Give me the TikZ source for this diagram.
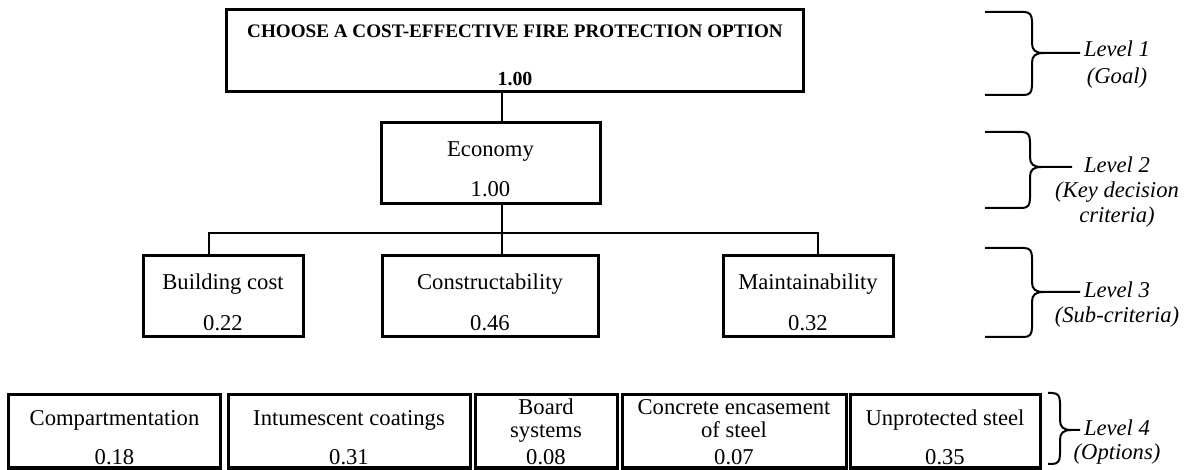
\documentclass[tikz,border=0pt]{standalone}
\usepackage{fontspec}
\setmainfont{Liberation Serif}
\tikzset{
  box/.style={draw, line width=3bp, inner sep=0pt, outer sep=0pt},
  link/.style={line width=1.7bp},
  lbr/.style={line width=2bp},
  txt/.style={anchor=base, inner sep=0pt, font=\fontsize{22.7}{26}\selectfont},
  ttl/.style={anchor=base, inner sep=0pt, font=\fontsize{19.2}{22}\selectfont\bfseries},
  lvl/.style={anchor=base, inner sep=0pt, font=\fontsize{22.7}{26}\selectfont\itshape},
}
\newcommand\levbrace[6]{%
  \draw[lbr] (#1,#4) -- ({#2-8},#4) .. controls ({#2-2},#4) and (#2,{#4+3}) .. (#2,{#4+10})
    -- (#2,{#5-10}) .. controls (#2,{#5-3}) and ({#2+3},#5) .. ({#2+12},#5) -- (#3,#5);
  \draw[lbr] ({#2+12},#5) .. controls ({#2+3},#5) and (#2,{#5+3}) .. (#2,{#5+10})
    -- (#2,{#6-10}) .. controls (#2,{#6-3}) and ({#2-2},#6) .. ({#2-8},#6) -- (#1,#6);
}
\begin{document}
\begin{tikzpicture}[x=1bp, y=-1bp]
\useasboundingbox (0,0) rectangle (1189,470);
% boxes
\node[box, minimum width=576bp, minimum height=82bp] (top) at (515,51) {};
\node[box, minimum width=219bp, minimum height=81bp] (eco) at (490.5,163.5) {};
\node[box, minimum width=160bp, minimum height=81bp] (bc) at (223,296.5) {};
\node[box, minimum width=216bp, minimum height=81bp] (cons) at (490,296.5) {};
\node[box, minimum width=170bp, minimum height=81bp] (mt) at (808,296.5) {};
\node[box, minimum width=211bp, minimum height=73bp] (comp) at (114.5,431.5) {};
\node[box, minimum width=242bp, minimum height=73bp] (intu) at (349,431.5) {};
\node[box, minimum width=142bp, minimum height=73bp] (board) at (546,431.5) {};
\node[box, minimum width=224bp, minimum height=73bp] (conc) at (734,431.5) {};
\node[box, minimum width=190bp, minimum height=73bp] (unpr) at (945,431.5) {};
% texts
\node[ttl] (topt) at (515,37.5) {CHOOSE A COST-EFFECTIVE FIRE PROTECTION OPTION};
\node[ttl, font=\fontsize{20}{22}\selectfont\bfseries] (topv) at (515,86) {1.00};
\node[txt] (ecot) at (490.5,157) {Economy};
\node[txt] (ecov) at (490.5,197) {1.00};
\node[txt] (bct) at (223,290) {Building cost};
\node[txt] (bcv) at (223,331) {0.22};
\node[txt] (const) at (490,290) {Constructability};
\node[txt] (consv) at (490,331) {0.46};
\node[txt] (mtt) at (808,290) {Maintainability};
\node[txt] (mtv) at (808,331) {0.32};
\node[txt] (compt) at (114.5,425.5) {Compartmentation};
\node[txt] (compv) at (114.5,464.5) {0.18};
\node[txt] (intut) at (349,425.5) {Intumescent coatings};
\node[txt] (intuv) at (349,464.5) {0.31};
\node[txt] (boardt) at (546,415) {Board};
\node[txt] (boardu) at (546,438) {systems};
\node[txt] (boardv) at (546,464.5) {0.08};
\node[txt] (conct) at (734,415) {Concrete encasement};
\node[txt] (concu) at (734,438) {of steel};
\node[txt] (concv) at (734,464.5) {0.07};
\node[txt] (unprt) at (945,425.5) {Unprotected steel};
\node[txt] (unprv) at (945,464.5) {0.35};
% connectors
\coordinate (m) at (502,0);
\coordinate (jl) at (209,233);
\coordinate (jr) at (818,233);
\draw[link] (top.south -| m) -- (eco.north -| m);
\draw[link] (eco.south -| m) -- (cons.north -| m);
\draw[link] (bc.north -| jl) -- (jl) -- (jr) -- (mt.north -| jr);
% level braces
\levbrace{985}{1032}{1080}{12}{53}{95}
\levbrace{985}{1030}{1072}{132}{167}{208}
\levbrace{985}{1032}{1080}{248}{292}{337}
\levbrace{1048}{1060}{1080}{393}{430}{464}
\node[lvl] (l1a) at (1117,57) {Level 1};
\node[lvl] (l1b) at (1117,84) {(Goal)};
\node[lvl] (l2a) at (1117,173) {Level 2};
\node[lvl] (l2b) at (1117,198) {(Key decision};
\node[lvl] (l2c) at (1117,223) {criteria)};
\node[lvl] (l3a) at (1117,298) {Level 3};
\node[lvl] (l3b) at (1117,323) {(Sub-criteria)};
\node[lvl] (l4a) at (1117,436) {Level 4};
\node[lvl] (l4b) at (1117,460) {(Options)};
\end{tikzpicture}
\end{document}
